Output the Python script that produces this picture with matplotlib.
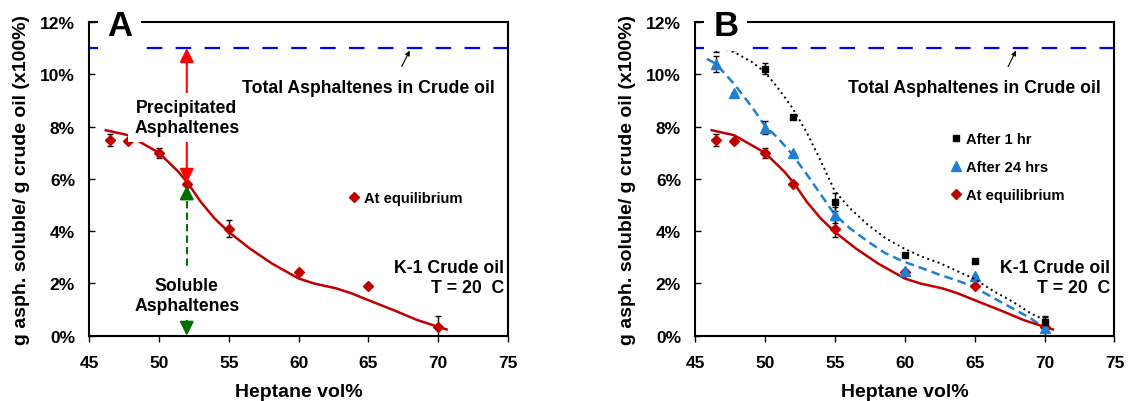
import matplotlib
matplotlib.use("Agg")
import matplotlib.pyplot as plt
from matplotlib.lines import Line2D
from matplotlib.ticker import FuncFormatter

plt.rcParams["font.family"] = ["Liberation Sans", "DejaVu Sans"]
plt.rcParams["font.weight"] = "bold"

TOTAL_ASPH = 11.0  # % of crude oil

# measured points (heptane vol%, % soluble)
eq_x = [46.5, 47.8, 50, 52, 55, 60, 65, 70]
eq_y = [7.48, 7.44, 6.99, 5.80, 4.10, 2.42, 1.91, 0.34]
eq_err = [0.22, 0.0, 0.2, 0.0, 0.32, 0.08, 0.0, 0.4]

hr1_x = [46.5, 47.8, 50, 52, 55, 60, 65, 70]
hr1_y = [11.05, 11.05, 10.22, 8.36, 5.12, 3.07, 2.84, 0.52]
hr1_err = [0.2, 0.0, 0.2, 0.0, 0.35, 0.0, 0.0, 0.2]

hr24_x = [46.5, 47.8, 50, 52, 55, 60, 65, 70]
hr24_y = [10.4, 9.28, 7.96, 6.97, 4.63, 2.48, 2.27, 0.28]
hr24_err = [0.3, 0.0, 0.25, 0.0, 0.3, 0.0, 0.0, 0.1]

# fitted trend lines
fit_eq_x = [46.2, 47.8, 50.0, 51.4, 52.1, 53.0, 54.0, 55.0, 56.5, 58.1, 60.0,
            61.1, 62.7, 63.8, 65.0, 66.8, 68.5, 70.0, 70.6]
fit_eq_y = [7.86, 7.67, 7.0, 6.27, 5.82, 5.12, 4.48, 3.97, 3.34, 2.76, 2.19,
            2.0, 1.81, 1.62, 1.36, 0.98, 0.6, 0.34, 0.24]

fit_1hr_x = [46.5, 47.8, 49.1, 50.0, 50.9, 51.95, 53.0, 54.0, 55.0, 56.05, 57.35,
             58.6, 59.9, 61.2, 62.5, 63.8, 64.9, 66.4, 67.7, 69.0, 70.0, 70.4]
fit_1hr_y = [11.04, 10.85, 10.46, 10.08, 9.5, 8.73, 7.77, 6.68, 5.53, 4.89, 4.25,
             3.74, 3.35, 3.03, 2.78, 2.46, 2.2, 1.69, 1.31, 0.86, 0.6, 0.35]

fit_24hr_x = [45.85, 46.5, 47.8, 49.1, 50.0, 50.9, 51.95, 53.0, 54.0, 55.0, 56.05,
              57.35, 58.6, 59.9, 61.2, 62.5, 63.8, 64.9, 66.4, 67.7, 69.0, 70.0]
fit_24hr_y = [10.59, 10.4, 9.63, 8.73, 8.03, 7.58, 6.94, 6.17, 5.4, 4.63, 4.12,
              3.61, 3.16, 2.84, 2.59, 2.33, 2.1, 1.88, 1.43, 1.05, 0.67, 0.28]

RED = "#C00000"
BLUE_LINE = "#0000FF"
BLUE_24 = "#1F7FD0"
GREEN = "#007000"
FS = 12.7


def base_axes(ax, letter):
    ax.set_xlim(45, 75)
    ax.set_ylim(0, 12)
    ax.set_xticks(range(45, 80, 5))
    ax.set_yticks(range(0, 14, 2))
    ax.yaxis.set_major_formatter(FuncFormatter(lambda v, p: "%d%%" % v))
    ax.tick_params(axis="y", direction="in", length=4, width=1, pad=10, labelsize=12.5)
    ax.tick_params(axis="x", direction="out", length=4, width=1, pad=10, labelsize=12.5)
    for s in ax.spines.values():
        s.set_linewidth(1.5)
    ax.set_xlabel("Heptane vol%", fontsize=14, fontweight="bold", labelpad=9)
    ax.set_ylabel("g asph. soluble/ g crude oil (x100%)", fontsize=14,
                  fontweight="bold", labelpad=7)
    ax.axhline(TOTAL_ASPH, color=BLUE_LINE, lw=1.6, dashes=(7, 6), zorder=2)
    ax.text(47.2, 11.85, letter, fontsize=25, fontweight="bold", ha="center",
            va="center", zorder=10, clip_on=False,
            bbox=dict(boxstyle="square,pad=0.25", fc="white", ec="none"))
    ax.annotate("", xy=(68.05, TOTAL_ASPH), xytext=(67.3, 10.2),
                arrowprops=dict(arrowstyle="-|>", color="black", lw=0.8,
                                mutation_scale=7))
    ax.text(65.0, 9.5, "Total Asphaltenes in Crude oil", fontsize=FS,
            fontweight="bold", ha="center", va="center")
    ax.text(74.7, 2.24, "K-1 Crude oil\nT = 20  C", fontsize=FS,
            fontweight="bold", ha="right", va="center", linespacing=1.25)


def plot_eq(ax):
    ax.plot(fit_eq_x, fit_eq_y, color=RED, lw=1.8, zorder=3)
    ax.errorbar(eq_x, eq_y, yerr=eq_err, fmt="none", ecolor="black",
                elinewidth=1, capsize=2, capthick=1, zorder=4)
    ax.plot(eq_x, eq_y, ls="none", marker="D", ms=5, color=RED, zorder=5)


fig = plt.figure(figsize=(11.28, 4.02), dpi=100)
axA = fig.add_axes([0.0789, 0.1624, 0.3715, 0.7804])
axB = fig.add_axes([0.6161, 0.1624, 0.3719, 0.7804])

# ---- panel A
base_axes(axA, "A")
plot_eq(axA)
ax_x = eq_x[3]
axA.annotate("", xy=(ax_x, eq_y[3] + 0.05), xytext=(ax_x, TOTAL_ASPH),
             arrowprops=dict(arrowstyle="<|-|>", color="#FF0000", lw=1.5,
                             mutation_scale=21, shrinkA=0, shrinkB=0), zorder=6)
axA.text(ax_x, 8.35, "Precipitated\nAsphaltenes", fontsize=FS, fontweight="bold",
         ha="center", va="center", zorder=7, linespacing=1.25,
         bbox=dict(boxstyle="square,pad=0.35", fc="white", ec="none"))
axA.plot([ax_x, ax_x], [0.5, eq_y[3] - 0.5], color=GREEN, lw=1.5,
         dashes=(3.5, 2), zorder=6)
axA.annotate("", xy=(ax_x, eq_y[3] - 0.05), xytext=(ax_x, eq_y[3] - 0.55),
             arrowprops=dict(arrowstyle="-|>", color=GREEN, lw=1.5,
                             mutation_scale=21, shrinkA=0, shrinkB=0), zorder=6)
axA.annotate("", xy=(ax_x, 0.0), xytext=(ax_x, 0.5),
             arrowprops=dict(arrowstyle="-|>", color=GREEN, lw=1.5,
                             mutation_scale=21, shrinkA=0, shrinkB=0), zorder=6)
axA.text(ax_x, 1.55, "Soluble\nAsphaltenes", fontsize=FS, fontweight="bold",
         ha="center", va="center", zorder=7, linespacing=1.25,
         bbox=dict(boxstyle="square,pad=0.35", fc="white", ec="none"))
hA = [Line2D([], [], ls="none", marker="D", ms=5, color=RED)]
axA.legend(hA, ["At equilibrium"], loc="center left", bbox_to_anchor=(0.59, 0.44),
           frameon=False, handlelength=0.6, handletextpad=0.4,
           prop=dict(size=10.6, weight="bold"))

# ---- panel B
base_axes(axB, "B")
axB.plot(fit_24hr_x, fit_24hr_y, color=BLUE_24, lw=1.8, dashes=(3.5, 2), zorder=3)
axB.plot(fit_1hr_x, fit_1hr_y, color="black", lw=1.4, ls=(0, (1, 1.8)), zorder=6)
plot_eq(axB)
axB.errorbar(hr24_x, hr24_y, yerr=hr24_err, fmt="none", ecolor="black",
             elinewidth=1, capsize=2, capthick=1, zorder=4)
axB.plot(hr24_x, hr24_y, ls="none", marker="^", ms=6.5, color=BLUE_24, zorder=5)
axB.errorbar(hr1_x, hr1_y, yerr=hr1_err, fmt="none", ecolor="black",
             elinewidth=1, capsize=2, capthick=1, zorder=4)
axB.plot(hr1_x, hr1_y, ls="none", marker="s", ms=5, color="black", zorder=5)
hB = [Line2D([], [], ls="none", marker="s", ms=5, color="black"),
      Line2D([], [], ls="none", marker="^", ms=6.5, color=BLUE_24),
      Line2D([], [], ls="none", marker="D", ms=5, color=RED)]
axB.legend(hB, ["After 1 hr", "After 24 hrs", "At equilibrium"],
           loc="upper left", bbox_to_anchor=(0.58, 0.69), frameon=False,
           handlelength=0.6, handletextpad=0.4, labelspacing=0.95,
           prop=dict(size=10.6, weight="bold"))

fig.savefig("out.png", dpi=100)
